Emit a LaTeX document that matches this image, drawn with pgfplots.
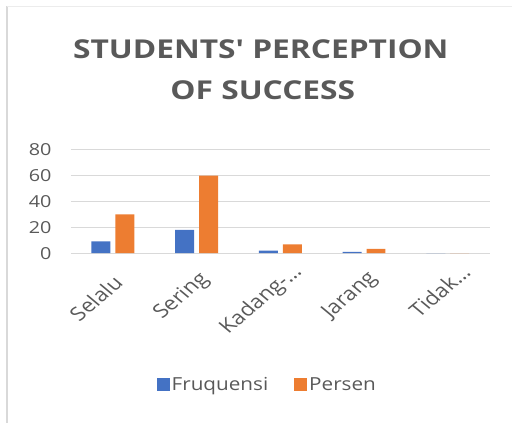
\documentclass[border=0pt]{standalone}
\usepackage{fontspec}
\setmainfont{Open Sans}[Ligatures=TeXOff]
\usepackage{pgfplots}
\pgfplotsset{compat=1.18}
\definecolor{cblue}{HTML}{4472C4}
\definecolor{corange}{HTML}{ED7D31}
\definecolor{tgray}{HTML}{595959}
\definecolor{ggray}{HTML}{D9D9D9}
\begin{document}
\begin{tikzpicture}[x=1pt,y=1pt]
\path (0,0) rectangle (512,423);
\draw[ggray, line width=1.2pt] (7,0) -- (7,417);
\draw[ggray!50, line width=0.8pt] (7,417) -- (512,417);
\node[font=\fontsize{26}{30}\selectfont\bfseries, text=tgray, anchor=base] at (261,364) {\scalebox{1.22}[1]{STUDENTS' PERCEPTION}};
\node[font=\fontsize{26}{30}\selectfont\bfseries, text=tgray, anchor=base] at (263,323) {\scalebox{1.22}[1]{OF SUCCESS}};
\begin{axis}[
  at={(71pt,169.7pt)}, anchor=south west,
  scale only axis, width=419pt, height=103.3pt,
  xmin=-0.5, xmax=4.5, ymin=0, ymax=80,
  ytick={0,20,40,60,80},
  xtick={0,1,2,3,4},
  xticklabels={Selalu,Sering\kern-4pt,Kadang-\ldots\kern-15pt,Jarang\kern-5pt,Tidak\ldots\kern-15pt},
  yticklabel={\scalebox{1.2}[1]{\pgfmathprintnumber{\tick}}},
  /pgf/number format/assume math mode=true,
  ymajorgrids, grid style={draw=ggray, line width=1pt},
  axis line style={draw=none},
  major tick length=0pt,
  tick label style={text=tgray},
  yticklabel style={font=\fontsize{16.5}{20}\selectfont, xshift=-16pt},
  xticklabel style={font=\fontsize{19}{22}\selectfont, xscale=1.2, rotate=45, anchor=east, xshift=-12pt, yshift=-22pt},
  ybar=5pt, bar width=19pt,
  legend columns=2,
  legend style={at={(0.469,-1.275)}, anchor=center, draw=none, fill=none,
    font=\fontsize{18}{20}\selectfont, text=tgray,
    /tikz/every even column/.append style={column sep=24pt}},
  legend image code/.code={\fill[#1] (-3pt,-6.5pt) rectangle (10pt,6.5pt);},
]
\addplot[fill=cblue, draw=none] coordinates {(0,9) (1,18) (2,2) (3,1) (4,0)};
\addplot[fill=corange, draw=none] coordinates {(0,30) (1,60) (2,6.67) (3,3.33) (4,0)};
\legend{\scalebox{1.15}[1]{Fruquensi},\scalebox{1.15}[1]{Persen}}
\end{axis}
\end{tikzpicture}
\end{document}
